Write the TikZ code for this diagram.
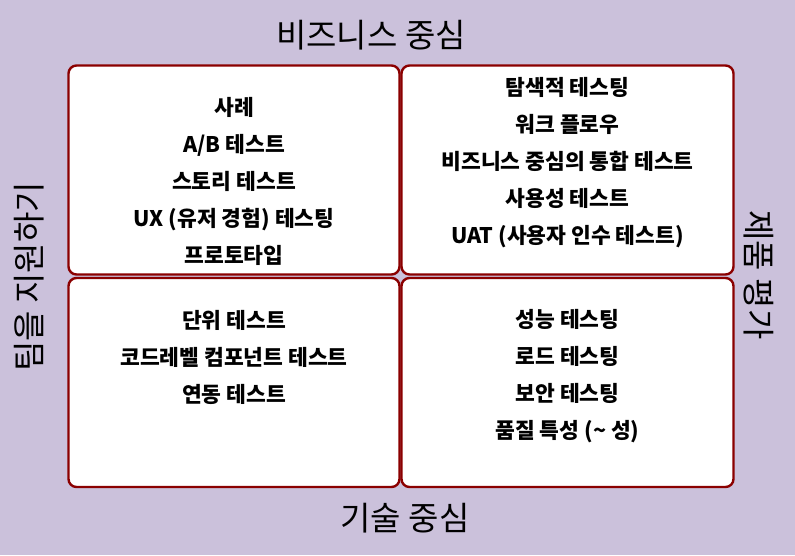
\documentclass[tikz,border=0pt]{standalone}
\usepackage{fontspec}
\setmainfont{Noto Sans CJK KR}
\usepackage{tikz}
\usetikzlibrary{positioning,shapes}

\definecolor{lavbg}{RGB}{203,193,219}
\definecolor{quadline}{RGB}{139,0,0}

\begin{document}
\begin{tikzpicture}[
            x=1pt,y=-1pt,
            quad/.style={draw=quadline,fill=white,line width=2.4pt,rounded corners=8pt,
                         minimum width=331pt,minimum height=209pt,inner sep=0pt},
            quadwide/.style={quad,minimum width=332pt},
            items/.style={align=center,font=\fontsize{21.5}{37}\selectfont\bfseries},
            axis/.style={font=\fontsize{33}{38}\selectfont}
          ]
          \fill[lavbg] (0,0) rectangle (795,555);
          \useasboundingbox (0,0) rectangle (795,555);

          %quadrants
          \node[quad] (tl) at (234,170) {};
          \node[quadwide] (tr) at (567.5,170) {};
          \node[quad] (bl) at (234,382.5) {};
          \node[quadwide] (br) at (567.5,382.5) {};

          %axis labels
          \node[axis] (top) at (371,35) {비즈니스 중심};
          \node[axis] (bottom) at (405,518) {기술 중심};
          \node[axis,rotate=90] (left) at (29,277) {팀을 지원하기};
          \node[axis,rotate=-90] (right) at (759,275) {제품 평가};

          %quadrant contents
          \node[items] (tlt) at (234,181) {사례\\A/B 테스트\\스토리 테스트\\UX (유저 경험) 테스팅\\프로토타입};
          \node[items] (trt) at (567.5,163) {탐색적 테스팅\\워크 플로우\\비즈니스 중심의 통합 테스트\\사용성 테스트\\UAT (사용자 인수 테스트)};
          \node[items] (blt) at (234,357.5) {단위 테스트\\코드레벨 컴포넌트 테스트\\연동 테스트};
          \node[items] (brt) at (567.5,376.5) {성능 테스팅\\로드 테스팅\\보안 테스팅\\품질 특성 (\textasciitilde{} 성)};

      \end{tikzpicture}
\end{document}
